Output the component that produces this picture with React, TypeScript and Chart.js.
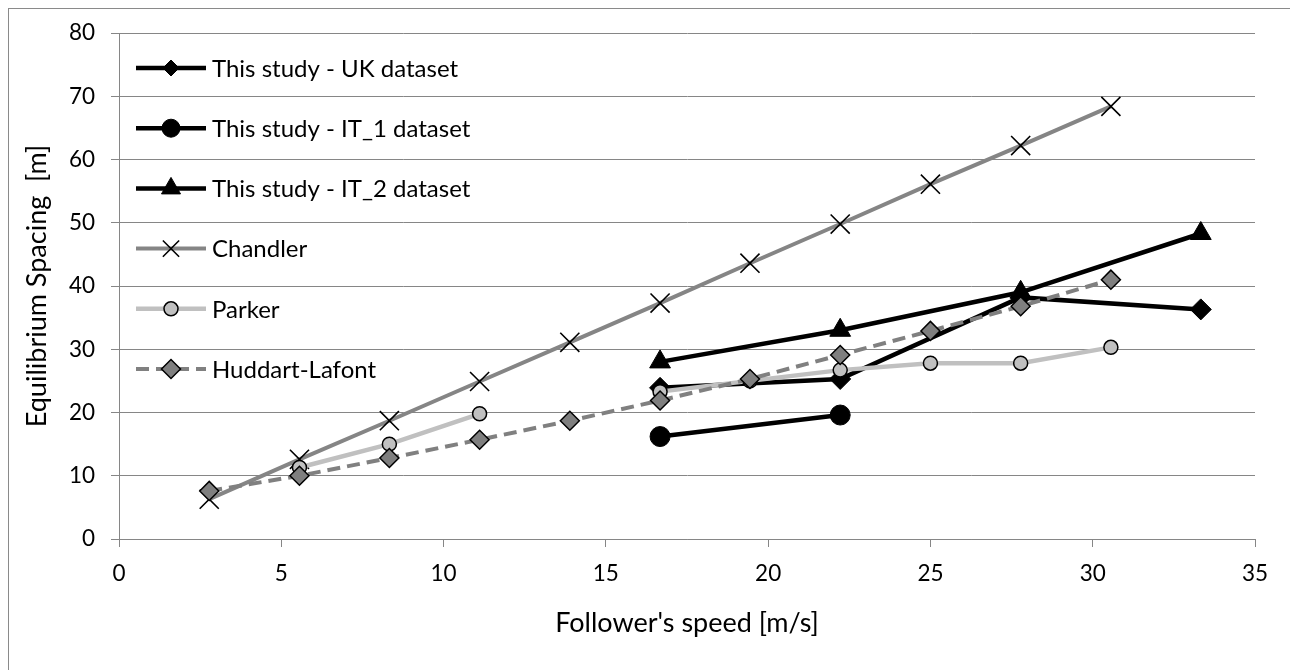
import React, { useEffect, useRef } from 'react';
import { Chart, registerables } from 'chart.js';
import { drawPoint } from 'chart.js/helpers';

Chart.register(...registerables);

// Follower speeds [m/s] (10, 20, ... 110 km/h)
const modelSpeeds = [2.78, 5.56, 8.33, 11.11, 13.89, 16.67, 19.44, 22.22, 25.0, 27.78, 30.56];
const chandlerSpacing = [6.3, 12.6, 18.7, 24.9, 31.1, 37.3, 43.6, 49.8, 56.1, 62.2, 68.4];
const parkerSpacing = [null, 11.3, 15.0, 19.8, null, 23.3, 25.0, 26.7, 27.8, 27.8, 30.3];
const huddartSpacing = [7.6, 10.0, 12.8, 15.7, 18.7, 21.9, 25.3, 29.1, 32.9, 36.8, 41.0];

// Datasets of this study
const studySpeeds = [16.67, 22.22, 27.78, 33.33];
const ukSpacing = [23.9, 25.3, 38.2, 36.3];
const it1Speeds = [16.67, 22.22];
const it1Spacing = [16.2, 19.6];
const it2Spacing = [28.0, 33.0, 39.0, 48.3];

const seriesNames = [
  'This study - UK dataset',
  'This study - IT_1 dataset',
  'This study - IT_2 dataset',
  'Chandler',
  'Parker',
  'Huddart-Lafont',
];

const xTickValues = [0, 5, 10, 15, 20, 25, 30, 35];
const yTickValues = [0, 10, 20, 30, 40, 50, 60, 70, 80];

const FONT = 'Lato';
const GRID = '#868686';

const toPoints = (xs: number[], ys: (number | null)[]) =>
  xs.map((x, i) => ({ x, y: ys[i] }));

// Legend drawn inside the plot area, with the marker sitting on a line sample
const insideLegend = {
  id: 'insideLegend',
  afterDraw(chart: any) {
    const ctx = chart.ctx as CanvasRenderingContext2D;
    const x0 = 136;
    const x1 = 206;
    const xm = 171;
    const textX = 212;
    const top = 68;
    const step = 60.2;
    ctx.save();
    chart.data.datasets.forEach((ds: any, i: number) => {
      const y = top + i * step;
      ctx.save();
      ctx.strokeStyle = ds.borderColor;
      ctx.lineWidth = ds.borderWidth;
      ctx.setLineDash(ds.borderDash || []);
      ctx.lineCap = 'butt';
      ctx.beginPath();
      ctx.moveTo(x0, y);
      ctx.lineTo(x1, y);
      ctx.stroke();
      ctx.setLineDash([]);
      ctx.fillStyle = ds.pointBackgroundColor;
      ctx.strokeStyle = ds.pointBorderColor;
      ctx.lineWidth = ds.pointBorderWidth;
      drawPoint(
        ctx,
        {
          pointStyle: ds.pointStyle,
          rotation: 0,
          radius: ds.legendPointRadius ?? ds.pointRadius,
          borderWidth: ds.pointBorderWidth,
        } as any,
        xm,
        y
      );
      ctx.restore();
      ctx.fillStyle = '#000';
      ctx.font = `24px ${FONT}`;
      ctx.textAlign = 'left';
      ctx.textBaseline = 'middle';
      ctx.fillText(ds.label, textX, y + 1);
    });
    ctx.restore();
  },
};

export default function App() {
  const canvasRef = useRef<HTMLCanvasElement | null>(null);

  useEffect(() => {
    const canvas = canvasRef.current;
    if (!canvas) return;

    const chart = new Chart(canvas, {
      type: 'line',
      data: {
        datasets: [
          {
            label: seriesNames[0],
            data: toPoints(studySpeeds, ukSpacing),
            borderColor: '#000000',
            borderWidth: 4.5,
            pointStyle: 'rectRot',
            pointRadius: 10.5,
            legendPointRadius: 8,
            pointBackgroundColor: '#000000',
            pointBorderColor: '#000000',
            pointBorderWidth: 1,
            order: 6,
          } as any,
          {
            label: seriesNames[1],
            data: toPoints(it1Speeds, it1Spacing),
            borderColor: '#000000',
            borderWidth: 4.5,
            pointStyle: 'circle',
            pointRadius: 10,
            legendPointRadius: 9,
            pointBackgroundColor: '#000000',
            pointBorderColor: '#000000',
            pointBorderWidth: 1,
            order: 5,
          },
          {
            label: seriesNames[2],
            data: toPoints(studySpeeds, it2Spacing),
            borderColor: '#000000',
            borderWidth: 4.5,
            pointStyle: 'triangle',
            pointRadius: 12,
            legendPointRadius: 11,
            pointBackgroundColor: '#000000',
            pointBorderColor: '#000000',
            pointBorderWidth: 1,
            order: 4,
          },
          {
            label: seriesNames[3],
            data: toPoints(modelSpeeds, chandlerSpacing),
            borderColor: '#858585',
            borderWidth: 4,
            pointStyle: 'crossRot',
            pointRadius: 13.5,
            legendPointRadius: 11.5,
            pointBackgroundColor: '#000000',
            pointBorderColor: '#000000',
            pointBorderWidth: 1.6,
            order: 3,
          },
          {
            label: seriesNames[4],
            data: toPoints(modelSpeeds, parkerSpacing),
            borderColor: '#c0c0c0',
            borderWidth: 4.5,
            pointStyle: 'circle',
            pointRadius: 7,
            pointBackgroundColor: '#c0c0c0',
            pointBorderColor: '#000000',
            pointBorderWidth: 1.5,
            spanGaps: false,
            order: 2,
          },
          {
            label: seriesNames[5],
            data: toPoints(modelSpeeds, huddartSpacing),
            borderColor: '#808080',
            borderWidth: 4,
            borderDash: [13, 7],
            pointStyle: 'rectRot',
            pointRadius: 9.5,
            pointBackgroundColor: '#7f7f7f',
            pointBorderColor: '#000000',
            pointBorderWidth: 1.5,
            order: 1,
          },
        ] as any,
      },
      options: {
        animation: false,
        responsive: false,
        devicePixelRatio: 1,
        layout: { padding: { top: 33, right: 35, left: 0, bottom: 0 } },
        elements: { line: { tension: 0, fill: false } },
        plugins: {
          legend: { display: false },
          tooltip: { enabled: false },
        },
        scales: {
          x: {
            type: 'linear',
            min: xTickValues[0],
            max: xTickValues[xTickValues.length - 1],
            afterBuildTicks: (scale: any) => {
              scale.ticks = xTickValues.map((v) => ({ value: v }));
            },
            ticks: {
              color: '#000',
              font: { family: FONT, size: 22.5 },
              padding: 13,
              maxRotation: 0,
            },
            grid: {
              drawOnChartArea: false,
              drawTicks: true,
              tickLength: 8,
              color: GRID,
              lineWidth: 1,
            },
            border: { display: true, color: GRID, width: 1 },
            title: {
              display: true,
              text: "Follower's speed [m/s]",
              color: '#000',
              font: { family: FONT, size: 27 },
              padding: { top: 0, bottom: 31 },
            },
            afterFit: (scale: any) => {
              scale.height = 131;
            },
          },
          y: {
            type: 'linear',
            min: yTickValues[0],
            max: yTickValues[yTickValues.length - 1],
            afterBuildTicks: (scale: any) => {
              scale.ticks = yTickValues.map((v) => ({ value: v }));
            },
            ticks: {
              color: '#000',
              font: { family: FONT, size: 22.5 },
              padding: 16,
            },
            grid: {
              drawOnChartArea: true,
              drawTicks: true,
              tickLength: 8,
              color: GRID,
              lineWidth: 1,
            },
            border: { display: true, color: GRID, width: 1 },
            title: {
              display: true,
              text: 'Equilibrium Spacing  [m]',
              color: '#000',
              font: { family: FONT, size: 27 },
              padding: { top: 21, bottom: 0 },
            },
            afterFit: (scale: any) => {
              scale.width = 119;
            },
          },
        },
      } as any,
      plugins: [insideLegend],
    });

    return () => chart.destroy();
  }, []);

  return (
    <div
      style={{
        position: 'fixed',
        left: 0,
        top: 0,
        width: 1290,
        height: 670,
        overflow: 'hidden',
        background: '#ffffff',
      }}
    >
      <div
        style={{
          position: 'absolute',
          left: 8,
          top: 8,
          width: 2000,
          height: 2000,
          border: '1px solid #8a8a8a',
        }}
      />
      <canvas
        ref={canvasRef}
        width={1290}
        height={670}
        style={{ position: 'absolute', left: 0, top: 0, width: 1290, height: 670 }}
      />
    </div>
  );
}
